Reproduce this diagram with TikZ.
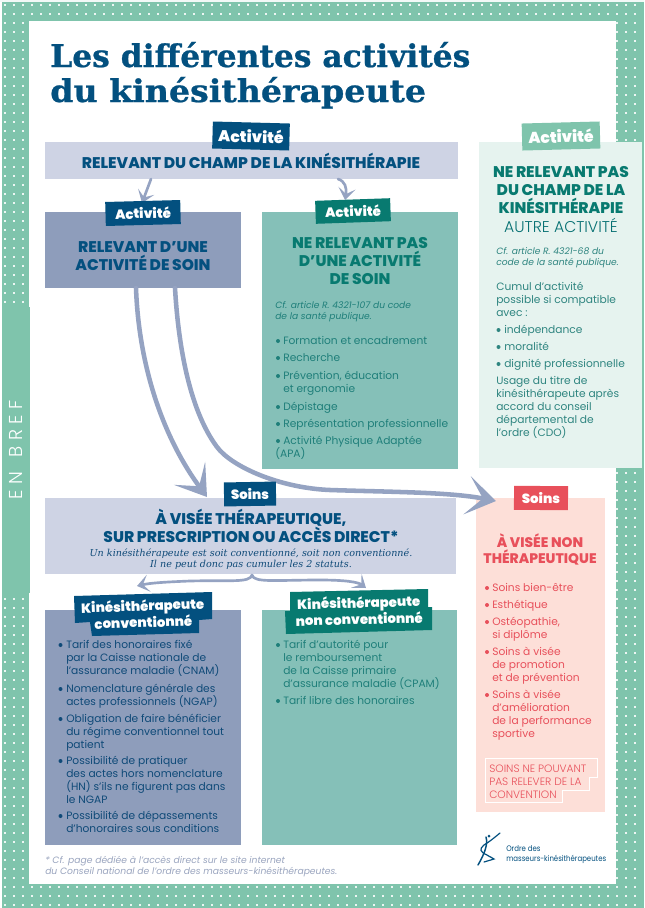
\documentclass[tikz,border=0pt]{standalone}
\usepackage{fontspec}
\usepackage{graphicx}
\usetikzlibrary{arrows.meta}
\setmainfont{Poppins}
\newfontfamily\slab[BoldFeatures={FakeBold=0.7}]{DejaVu Serif}
\newfontfamily\popl{Poppins Light}
\newfontfamily\popb{Poppins ExtraBold}
\newfontfamily\popk{Poppins Black}
\definecolor{mint}{HTML}{7FC4AC}
\definecolor{navy}{HTML}{03507F}
\definecolor{band}{HTML}{CED3E4}
\definecolor{slate}{HTML}{8E9DBB}
\definecolor{teal1}{HTML}{85C0B8}
\definecolor{teal2}{HTML}{087A70}
\definecolor{pale}{HTML}{E6F3EF}
\definecolor{blush}{HTML}{FDDFD8}
\definecolor{coral}{HTML}{E8505B}
\definecolor{rtxt}{HTML}{2F8580}
\definecolor{ntxt}{HTML}{0F4A78}
\definecolor{ttxt}{HTML}{1F7F7A}
\definecolor{foot}{HTML}{9AA5BF}
\definecolor{arrowc}{HTML}{95A3C2}
\newcommand{\tightw}{\spaceskip=.2em\relax}
\tikzset{
  box/.style={inner sep=0pt,outer sep=0pt,draw=none},
  tag/.style={inner sep=0pt,outer sep=0pt,text=white,align=center,font=\popk\fontsize{10}{11.3}\selectfont},
  bigtag/.style={tag,font=\popk\fontsize{11.7}{13}\selectfont},
  hd/.style={inner sep=0pt,anchor=north,align=center,font=\popb\tightw\fontsize{11.6}{13.6}\selectfont,text=navy},
  note/.style={inner sep=0pt,anchor=base,font=\slab\itshape\fontsize{7.2}{8.2}\selectfont,text=ntxt},
  txt/.style={inner sep=0pt,anchor=north west,align=left,font=\fontsize{8}{9.75}\selectfont},
  cf/.style={inner sep=0pt,anchor=north west,align=left,font=\itshape\fontsize{6.85}{8.2}\selectfont},
  flow/.style={draw=arrowc,line cap=round,fill=none},
  bigflow/.style={flow,line width=3.4pt,-{Stealth[length=22pt,width=29pt,inset=12pt]}},
  smallflow/.style={flow,line width=2pt,-{Stealth[length=9pt,width=13pt,inset=4.5pt]}},
}
% box name x1 y1 x2 y2 colour
\newcommand{\bx}[6]{\node[box,fill=#6,minimum width={(#4-#2)*.75pt},minimum height={(#5-#3)*.75pt}] (#1) at ({(#2+#4)/2},{(#3+#5)/2}) {};}
% text block: name style x baseline text
\newcommand{\tb}[5]{\node[#2] (#1) at (#3,#4-12) {\rule{0pt}{9pt}#5};}
% heading block (room for capital accents): name style x baseline text
\newcommand{\hb}[5]{\node[#2] (#1) at (#3,#4-16) {\rule{0pt}{12pt}#5};}
% bullet item: name colour textcolour bulletx textx baseline text
\newcommand{\itm}[7]{\fill[#2] (#4,#6-3) circle (2);\tb{#1}{txt,text=#3}{#5}{#6}{#7}}
\begin{document}
\begin{tikzpicture}[x=.75pt,y=-.75pt]
\useasboundingbox (0,0) rectangle (644,908);
% frame
\fill[white] (0,0) rectangle (644,908);
\fill[mint] (2,2) rectangle (644,908);
\fill[white!90!mint] (0,0) rectangle (644,1.6);
\foreach \i in {0,...,70}{\foreach \j in {0,...,100}{
  \fill[white!85!mint] ({5+9*\i-.8},{5+9*\j-.8}) rectangle ++(1.6,1.6);}}
\node[box,fill=white,minimum width={587*.75pt},minimum height={863*.75pt}] (panel) at (322.5,452.5) {};
\bx{enbref}{2}{307}{30}{593}{mint}
\node[box,rotate=90,text=white,font=\popl\fontsize{14}{16}\selectfont] (enbreft) at (16,450) {E\hspace{4pt}N\hspace{11pt}B\hspace{4pt}R\hspace{4pt}E\hspace{4pt}F};
% title
\node[inner sep=0pt,anchor=base west,text=navy,font=\slab\bfseries\fontsize{23.5}{26}\selectfont] (t1) at (50,67) {Les différentes activités};
\node[inner sep=0pt,anchor=base west,text=navy,font=\slab\bfseries\fontsize{23.5}{26}\selectfont] (t2) at (50,102) {\scalebox{1.06}[1]{du kinésithérapeute}};
% boxes
\bx{champ}{45}{142}{458}{179}{band}
\bx{soin}{45}{212}{241}{288}{slate}
\bx{nonsoin}{262}{212}{458}{469}{teal1}
\bx{autre}{479}{142}{642}{468}{pale}
\bx{visee}{45}{498}{456}{574}{band}
\bx{nonvisee}{476}{498}{605}{812}{blush}
\bx{conv}{45}{610}{241}{845}{slate}
\bx{nonconv}{262}{610}{457}{845}{teal1}
% flows
\coordinate (a1s) at (136,288); \coordinate (a1e) at (207,497);
\coordinate (a2s) at (175,288); \coordinate (a2e) at (496,501);
\draw[bigflow] (a1s) .. controls (139,370) and (165,440) .. (a1e);
\draw[bigflow] (a2s) .. controls (178,340) and (188,408) .. (217,447) .. controls (232,467) and (280,488) .. (330,490) .. controls (390,492) and (450,492) .. (a2e);
\coordinate (a3s) at (151,179); \coordinate (a3e) at (142,203);
\coordinate (a4s) at (338,179); \coordinate (a4e) at (345,200);
\draw[smallflow] (a3s) -- (a3e);
\draw[smallflow] (a4s) .. controls (345,181) and (347,188) .. (a4e);
\coordinate (br) at (252,575); \coordinate (bl) at (137,586); \coordinate (brr) at (366,588);
\draw[smallflow] (br) .. controls (250,583) and (230,580) .. (190,581) .. controls (165,582) and (150,583) .. (bl);
\draw[smallflow] (br) .. controls (254,583) and (275,580) .. (320,580) .. controls (345,580) and (358,582) .. (brr);
% tags
\node[bigtag,fill=navy,rotate=-1.5,minimum width={77*.75pt},minimum height={27*.75pt}] (tag1) at (251,136) {Activité};
\node[tag,fill=navy,rotate=1.5,minimum width={75*.75pt},minimum height={24*.75pt}] (tag2) at (143,213) {Activité};
\node[tag,fill=teal2,rotate=2,minimum width={75*.75pt},minimum height={23*.75pt}] (tag3) at (353,211) {Activité};
\node[bigtag,fill=mint,rotate=1.5,minimum width={78*.75pt},minimum height={27*.75pt}] (tag4) at (561,136) {Activité};
\node[tag,fill=navy,rotate=1,minimum width={52*.75pt},minimum height={24*.75pt}] (tag5) at (250,494) {Soins};
\node[tag,fill=coral,rotate=-.5,minimum width={54*.75pt},minimum height={24*.75pt}] (tag6) at (541,498) {Soins};
\fill[navy] (74,596) -- (212,592) -- (212,619) -- (199,620) -- (199,633) -- (92,636) -- (90,622) -- (75,623) -- cycle;
\node[tag,rotate=2,text=white] (tag7) at (143,613.5) {Kinésithérapeute\\conventionné};
\fill[teal2] (290,592) -- (428,589) -- (428,607) -- (432,607) -- (432,630) -- (286,634) -- (285,611) -- (290,611) -- cycle;
\node[tag,rotate=1.5] (tag8) at (359,610.5) {Kinésithérapeute\\non conventionné};
% headings
\hb{h1}{hd}{251}{168}{RELEVANT DU CHAMP DE LA KINÉSITHÉRAPIE}
\hb{h2}{hd}{143}{252}{RELEVANT D’UNE\\ACTIVITÉ DE SOIN}
\hb{h3}{hd,text=teal2}{360}{248}{NE RELEVANT PAS\\D’UNE ACTIVITÉ\\DE SOIN}
\hb{h4}{hd,text=teal2}{561}{177}{NE RELEVANT PAS\\DU CHAMP DE LA\\KINÉSITHÉRAPIE}
\hb{h5}{hd,font=\popl\fontsize{11.7}{13.6}\selectfont,text=teal2!80!navy}{561}{232}{AUTRE ACTIVITÉ}
\hb{h6}{hd}{251}{524}{À VISÉE THÉRAPEUTIQUE,\\SUR PRESCRIPTION OU ACCÈS DIRECT*}
\hb{h7}{hd,text=coral,font=\popb\tightw\fontsize{10.4}{12.2}\selectfont}{540}{547}{À VISÉE NON\\THÉRAPEUTIQUE}
% italic note
\node[note] (n1) at (251,556) {Un kinésithérapeute est soit conventionné, soit non conventionné.};
\node[note] (n2) at (251,567) {Il ne peut donc pas cumuler les 2 statuts.};
% teal list
\tb{c1}{cf,text=ttxt}{275}{308}{Cf. article R. 4321-107 du code\\de la santé publique.}
\itm{l1}{ttxt}{ttxt}{278}{283}{344}{Formation et encadrement}
\itm{l2}{ttxt}{ttxt}{278}{283}{361}{Recherche}
\itm{l3}{ttxt}{ttxt}{278}{283}{379}{Prévention, éducation\\et ergonomie}
\itm{l4}{ttxt}{ttxt}{278}{283}{410}{Dépistage}
\itm{l5}{ttxt}{ttxt}{278}{283}{427}{Représentation professionnelle}
\itm{l6}{ttxt}{ttxt}{278}{283}{444}{Activité Physique Adaptée}
\tb{l6b}{txt,text=ttxt}{275}{457}{(APA)}
% right list
\tb{c2}{cf,text=rtxt}{496}{254}{Cf. article R. 4321-68 du\\code de la santé publique.}
\tb{r1}{txt,text=rtxt}{496}{290}{Cumul d’activité\\possible si compatible\\avec :}
\itm{r2}{rtxt}{rtxt}{498.5}{504}{333}{indépendance}
\itm{r3}{rtxt}{rtxt}{498.5}{504}{350}{moralité}
\itm{r4}{rtxt}{rtxt}{498.5}{504}{367}{dignité professionnelle}
\tb{r5}{txt,text=rtxt}{496}{384}{Usage du titre de\\kinésithérapeute après\\accord du conseil\\départemental de\\l’ordre (CDO)}
% conv list
\itm{v1}{ntxt}{ntxt}{60.5}{66}{648}{Tarif des honoraires fixé\\par la Caisse nationale de\\l’assurance maladie (CNAM)}
\itm{v2}{ntxt}{ntxt}{60.5}{66}{692}{Nomenclature générale des\\actes professionnels (NGAP)}
\itm{v3}{ntxt}{ntxt}{60.5}{66}{722}{Obligation de faire bénéficier\\du régime conventionnel tout\\patient}
\itm{v4}{ntxt}{ntxt}{60.5}{66}{764}{Possibilité de pratiquer\\des actes hors nomenclature\\(HN) s’ils ne figurent pas dans\\le NGAP}
\itm{v5}{ntxt}{ntxt}{60.5}{66}{819}{Possibilité de dépassements\\d’honoraires sous conditions}
% non conv list
\itm{w1}{ttxt}{ttxt}{278}{283}{648}{Tarif d’autorité pour\\le remboursement\\de la Caisse primaire\\d’assurance maladie (CPAM)}
\itm{w2}{ttxt}{ttxt}{278}{283}{704}{Tarif libre des honoraires}
% pink list
\itm{p1}{coral}{coral}{487}{492}{591}{Soins bien-être}
\itm{p2}{coral}{coral}{487}{492}{608}{Esthétique}
\itm{p3}{coral}{coral}{487}{492}{625}{Ostéopathie,\\si diplôme}
\itm{p4}{coral}{coral}{487}{492}{655}{Soins à visée\\de promotion\\et de prévention}
\itm{p5}{coral}{coral}{487}{492}{698}{Soins à visée\\d’amélioration\\de la performance\\sportive}
\draw[white,line width=.6pt] (485,758) -- (597,758) -- (597,777) -- (589,777) -- (589,790) -- (562,790) -- (562,802) -- (485,802) -- cycle;
\tb{p6}{txt,font=\popl\fontsize{8}{9.75}\selectfont,text=coral}{489}{772}{SOINS NE POUVANT\\PAS RELEVER DE LA\\CONVENTION}
% footnote
\tb{f1}{cf,font=\itshape\fontsize{6.9}{8.4}\selectfont,text=foot}{45}{863}{* Cf. page dédiée à l’accès direct sur le site internet\\du Conseil national de l’ordre des masseurs-kinésithérapeutes.}
% logo
\draw[navy,line width=.9pt,line cap=round] (500,833) .. controls (494,838) and (489,842) .. (484,845) .. controls (479,849) and (480,852) .. (487,855) .. controls (490,857) and (493,858) .. (494,859) -- (484,862);
\draw[navy,line width=1.1pt,line cap=round] (486,837) .. controls (488,844) and (485,853) .. (478,865);
\fill[navy] (489,836) circle (1.5);
\tb{g1}{txt,font=\fontsize{6}{7.5}\selectfont,text=navy}{506}{851}{\scalebox{.87}[1]{Ordre des}}
\tb{g2}{txt,font=\fontsize{6}{7.5}\selectfont,text=navy}{506}{861}{\scalebox{.87}[1]{masseurs-kinésithérapeutes}}
\end{tikzpicture}
\end{document}
